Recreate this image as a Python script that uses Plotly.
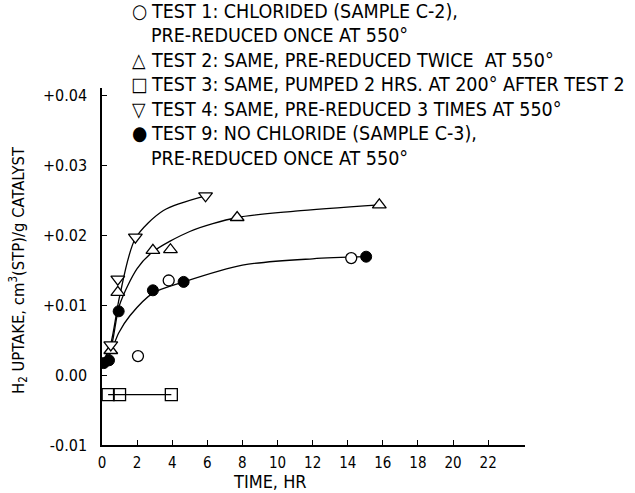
import plotly.graph_objects as go

# ---- data ----
t1_time = [2.05, 3.8, 14.2]
t1_val = [0.0027, 0.0135, 0.0167]

t2_time = [0.5, 0.9, 2.9, 3.9, 7.7, 15.8]
t2_val = [0.0035, 0.0118, 0.0178, 0.0179, 0.0225, 0.0243]

t3_time = [0.35, 1.0, 3.95]
t3_val = [-0.0028, -0.0028, -0.0028]

t4_time = [0.5, 0.9, 1.9, 5.9]
t4_val = [0.0043, 0.0137, 0.0197, 0.0256]

t9_time = [0.1, 0.4, 0.95, 2.9, 4.65, 15.05]
t9_val = [0.0017, 0.0021, 0.0091, 0.0121, 0.0133, 0.0169]

# hand-drawn curves
c4_time = [0.0, 0.5, 1.0, 1.9, 3.5, 5.9]
c4_val = [0.0015, 0.0045, 0.0112, 0.0195, 0.0235, 0.0256]

c2_time = [0.0, 0.5, 1.0, 2.0, 2.9, 5.0, 7.7, 11.0, 15.8]
c2_val = [0.0015, 0.0038, 0.0100, 0.0152, 0.0176, 0.0205, 0.0225, 0.0234, 0.0243]

c9_time = [0.2, 0.5, 0.95, 1.6, 2.9, 4.65, 8.0, 12.0, 15.05]
c9_val = [0.0018, 0.0032, 0.0060, 0.0085, 0.0117, 0.0133, 0.0157, 0.0166, 0.0169]

x_ticks = [0, 2, 4, 6, 8, 10, 12, 14, 16, 18, 20, 22]
y_ticks = [-0.01, 0.0, 0.01, 0.02, 0.03, 0.04]
y_tick_text = ["-0.01", "0.00", "+0.01", "+0.02", "+0.03", "+0.04"]

legend_symbols = ["○", "", "△", "□", "▽", "●", ""]
legend_texts = [
    "TEST 1: CHLORIDED (SAMPLE C-2),",
    "PRE-REDUCED ONCE AT 550°",
    "TEST 2: SAME, PRE-REDUCED TWICE  AT 550°",
    "TEST 3: SAME, PUMPED 2 HRS. AT 200° AFTER TEST 2",
    "TEST 4: SAME, PRE-REDUCED 3 TIMES AT 550°",
    "TEST 9: NO CHLORIDE (SAMPLE C-3),",
    "PRE-REDUCED ONCE AT 550°",
]

FONT = "DejaVu Sans Condensed, Liberation Sans Narrow, Arial"

W, H = 635, 493
L, R, T, B = 102, 110, 88, 48
PW, PH = W - L - R, H - T - B


def px(xp):
    return (xp - L) / PW


def py(yp):
    return (H - B - yp) / PH


fig = go.Figure()
line = dict(color="black", width=1.3)
for cx, cy in [(c4_time, c4_val), (c2_time, c2_val), (c9_time, c9_val)]:
    fig.add_trace(go.Scatter(x=cx, y=cy, mode="lines", line=dict(shape="spline", smoothing=0.8, **line),
                             hoverinfo="skip", showlegend=False))
fig.add_trace(go.Scatter(x=t3_time, y=t3_val, mode="lines+markers", line=line,
                         marker=dict(symbol="square-open", size=12, color="black", line=dict(width=1.3)),
                         showlegend=False))

ms = 11
fig.add_trace(go.Scatter(x=t2_time, y=t2_val, mode="markers",
                         marker=dict(symbol="triangle-up", size=ms + 1, color="white",
                                     line=dict(color="black", width=1.3)), showlegend=False))
fig.add_trace(go.Scatter(x=t4_time, y=t4_val, mode="markers",
                         marker=dict(symbol="triangle-down", size=ms + 1, color="white",
                                     line=dict(color="black", width=1.3)), showlegend=False))
fig.add_trace(go.Scatter(x=t1_time, y=t1_val, mode="markers",
                         marker=dict(symbol="circle", size=ms, color="white",
                                     line=dict(color="black", width=1.3)), showlegend=False))
fig.add_trace(go.Scatter(x=t9_time, y=t9_val, mode="markers",
                         marker=dict(symbol="circle", size=ms, color="black",
                                     line=dict(color="black", width=1)), showlegend=False))

LEG = 19.5
for i, (sym, txt) in enumerate(zip(legend_symbols, legend_texts)):
    ypx = 11 + i * 24.5
    if sym:
        fig.add_annotation(text=sym, xref="paper", yref="paper", x=px(139), y=py(ypx),
                           xanchor="center", yanchor="middle", showarrow=False,
                           font=dict(family=FONT, size=LEG, color="black"))
    fig.add_annotation(text=txt, xref="paper", yref="paper", x=px(149), y=py(ypx),
                       xanchor="left", yanchor="middle", showarrow=False,
                       font=dict(family=FONT, size=LEG, color="black"))

# axis titles
fig.add_annotation(text="TIME, HR", xref="paper", yref="paper", x=px(270), y=py(481),
                   xanchor="center", yanchor="middle", showarrow=False,
                   font=dict(family=FONT, size=18, color="black"))
fig.add_annotation(text="H<sub>2</sub> UPTAKE, cm<sup>3</sup>(STP)/g CATALYST", xref="paper", yref="paper",
                   x=px(18), y=py(270), textangle=-90, xanchor="center", yanchor="middle",
                   showarrow=False, font=dict(family=FONT, size=16.5, color="black"))

fig.update_xaxes(range=[0, 24.1], tickvals=x_ticks, ticks="inside", ticklen=5, tickcolor="black",
                 showline=True, linecolor="black", linewidth=1.5, showgrid=False, zeroline=False,
                 ticklabelstandoff=3,
                 tickfont=dict(family=FONT, size=15, color="black"))
fig.update_yaxes(range=[-0.01, 0.041], tickvals=y_ticks, ticktext=y_tick_text, ticks="inside", ticklen=5,
                 tickcolor="black", showline=True, linecolor="black", linewidth=1.5, showgrid=False,
                 zeroline=False, ticklabelstandoff=10,
                 tickfont=dict(family=FONT, size=16, color="black"))
fig.update_layout(width=W, height=H, margin=dict(l=L, r=R, t=T, b=B, pad=0),
                  plot_bgcolor="white", paper_bgcolor="white")
fig.write_html("out.html")
